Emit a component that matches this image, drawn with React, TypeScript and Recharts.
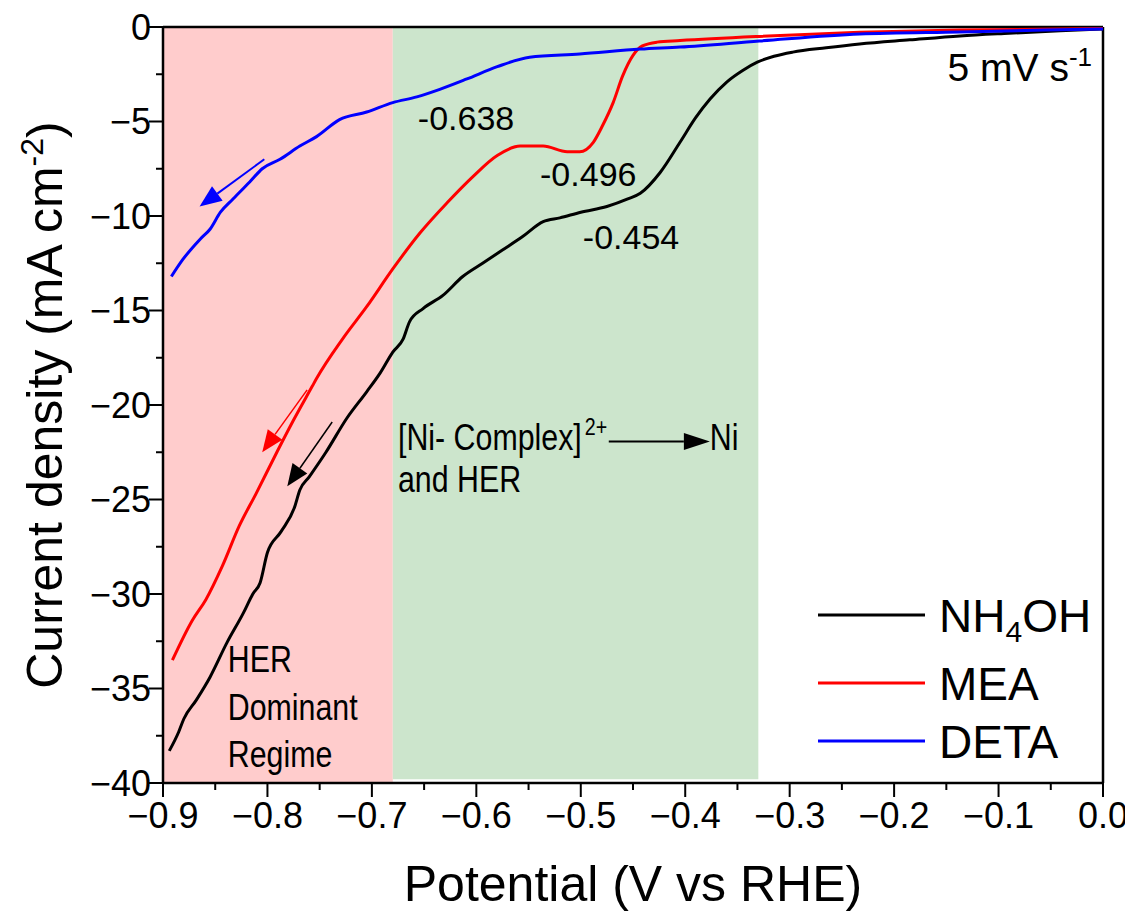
import React from "react";
import {
  LineChart,
  Line,
  XAxis,
  YAxis,
  ReferenceArea,
  ReferenceLine,
  ReferenceDot,
  Legend,
} from "recharts";

const FONT = "'Liberation Sans', Arial, sans-serif";

// Потенциал (V vs RHE) / плотность тока (mA cm-2)
const nh4ohPoints = [
  { v: -0.894, j: -38.3 }, { v: -0.885, j: -37.3 }, { v: -0.88, j: -36.6 },
  { v: -0.868, j: -35.6 }, { v: -0.855, j: -34.4 }, { v: -0.839, j: -32.6 },
  { v: -0.823, j: -31.0 }, { v: -0.814, j: -30.0 }, { v: -0.807, j: -29.4 },
  { v: -0.8, j: -27.8 }, { v: -0.787, j: -26.7 }, { v: -0.774, j: -25.4 },
  { v: -0.769, j: -24.5 }, { v: -0.76, j: -23.8 }, { v: -0.744, j: -22.5 },
  { v: -0.724, j: -20.7 }, { v: -0.705, j: -19.3 }, { v: -0.692, j: -18.3 },
  { v: -0.68, j: -17.2 }, { v: -0.67, j: -16.5 }, { v: -0.664, j: -15.6 },
  { v: -0.651, j: -14.9 }, { v: -0.632, j: -14.2 }, { v: -0.613, j: -13.2 },
  { v: -0.594, j: -12.5 }, { v: -0.575, j: -11.8 }, { v: -0.556, j: -11.1 },
  { v: -0.536, j: -10.3 }, { v: -0.52, j: -10.1 }, { v: -0.5, j: -9.8 },
  { v: -0.475, j: -9.5 }, { v: -0.455, j: -9.1 }, { v: -0.443, j: -8.8 },
  { v: -0.424, j: -7.7 }, { v: -0.405, j: -6.1 }, { v: -0.39, j: -4.8 },
  { v: -0.376, j: -3.8 }, { v: -0.36, j: -2.9 }, { v: -0.345, j: -2.3 },
  { v: -0.331, j: -1.86 }, { v: -0.315, j: -1.55 }, { v: -0.297, j: -1.33 },
  { v: -0.265, j: -1.1 }, { v: -0.233, j: -0.9 }, { v: -0.185, j: -0.68 },
  { v: -0.137, j: -0.47 }, { v: -0.09, j: -0.33 }, { v: -0.041, j: -0.2 },
  { v: 0, j: -0.1 },
];

const meaPoints = [
  { v: -0.891, j: -33.5 }, { v: -0.872, j: -31.4 }, { v: -0.859, j: -30.3 },
  { v: -0.843, j: -28.5 }, { v: -0.827, j: -26.4 }, { v: -0.811, j: -24.7 },
  { v: -0.791, j: -22.5 }, { v: -0.776, j: -20.9 }, { v: -0.757, j: -19.0 },
  { v: -0.753, j: -18.6 }, { v: -0.728, j: -16.5 }, { v: -0.705, j: -14.8 },
  { v: -0.68, j: -12.8 }, { v: -0.654, j: -10.9 }, { v: -0.628, j: -9.3 },
  { v: -0.603, j: -7.9 }, { v: -0.58, j: -6.8 }, { v: -0.558, j: -6.3 },
  { v: -0.536, j: -6.3 }, { v: -0.513, j: -6.6 }, { v: -0.501, j: -6.6 },
  { v: -0.488, j: -6.1 }, { v: -0.479, j: -5.2 }, { v: -0.469, j: -4.0 },
  { v: -0.46, j: -2.6 }, { v: -0.45, j: -1.5 }, { v: -0.441, j: -1.0 },
  { v: -0.427, j: -0.8 }, { v: -0.405, j: -0.72 }, { v: -0.329, j: -0.5 },
  { v: -0.233, j: -0.28 }, { v: -0.137, j: -0.16 }, { v: 0, j: -0.08 },
];

const detaPoints = [
  { v: -0.892, j: -13.2 }, { v: -0.881, j: -12.3 }, { v: -0.864, j: -11.2 },
  { v: -0.855, j: -10.7 }, { v: -0.845, j: -9.8 }, { v: -0.833, j: -9.1 },
  { v: -0.817, j: -8.2 }, { v: -0.805, j: -7.5 }, { v: -0.788, j: -7.0 },
  { v: -0.769, j: -6.3 }, { v: -0.753, j: -5.8 }, { v: -0.731, j: -4.9 },
  { v: -0.705, j: -4.5 }, { v: -0.68, j: -4.0 }, { v: -0.657, j: -3.7 },
  { v: -0.635, j: -3.3 }, { v: -0.609, j: -2.75 }, { v: -0.58, j: -2.1 },
  { v: -0.549, j: -1.6 }, { v: -0.501, j: -1.43 }, { v: -0.443, j: -1.17 },
  { v: -0.405, j: -1.06 }, { v: -0.329, j: -0.74 }, { v: -0.233, j: -0.37 },
  { v: -0.137, j: -0.26 }, { v: 0, j: -0.1 },
];

const SERIES_ORDER = ["NH4OH", "MEA", "DETA"];

// деления осей
const X_MAJOR = [-0.9, -0.8, -0.7, -0.6, -0.5, -0.4, -0.3, -0.2, -0.1, 0];
const X_MINOR = [-0.85, -0.75, -0.65, -0.55, -0.45, -0.35, -0.25, -0.15, -0.05];
const Y_MAJOR = [0, -5, -10, -15, -20, -25, -30, -35, -40];
const Y_MINOR = [-2.5, -7.5, -12.5, -17.5, -22.5, -27.5, -32.5, -37.5];

// области
const HER_REGION = [-0.9, -0.68];
const NI_REGION = [-0.68, -0.33];

// подписи пиков
const peakLabels = [
  { text: "-0.638", v: -0.656, j: -5.46 },
  { text: "-0.496", v: -0.539, j: -8.42 },
  { text: "-0.454", v: -0.498, j: -11.76 },
];

// стрелки направления развёртки: [хвост, остриё]
const sweepArrows = [
  { color: "#0000FF", from: { v: -0.803, j: -7.0 }, to: { v: -0.865, j: -9.5 }, w: 2 },
  { color: "#FF0000", from: { v: -0.762, j: -19.2 }, to: { v: -0.805, j: -22.5 }, w: 1.5 },
  { color: "#000000", from: { v: -0.738, j: -20.9 }, to: { v: -0.781, j: -24.3 }, w: 1.5 },
];

const fmtX = (v: number) => (v === 0 ? "0.0" : "\u2212" + Math.abs(v).toFixed(1));
const fmtY = (v: number) => (v === 0 ? "0" : "\u2212" + Math.abs(v));

const XTick = (props: any) => {
  const { x, y, payload } = props;
  const major = X_MAJOR.includes(payload.value);
  return (
    <g>
      <line x1={x} y1={y} x2={x} y2={y + (major ? 14 : 7)} stroke="#000" strokeWidth={2} />
      {major && (
        <text x={x} y={y + 45} textAnchor="middle" fontSize={36} fontFamily={FONT} fill="#000">
          {fmtX(payload.value)}
        </text>
      )}
    </g>
  );
};

const YTick = (props: any) => {
  const { x, y, payload } = props;
  const major = Y_MAJOR.includes(payload.value);
  return (
    <g>
      <line x1={x} y1={y} x2={x - (major ? 14 : 7)} y2={y} stroke="#000" strokeWidth={2} />
      {major && (
        <text x={x - 12} y={y} dy="0.36em" textAnchor="end" fontSize={36} fontFamily={FONT} fill="#000">
          {fmtY(payload.value)}
        </text>
      )}
    </g>
  );
};

const arrowShape = (color: string, lw: number, hl = 22, hw = 9) => (p: any) => {
  const { x1, y1, x2, y2 } = p;
  const len = Math.hypot(x2 - x1, y2 - y1) || 1;
  const ux = (x2 - x1) / len;
  const uy = (y2 - y1) / len;
  const bx = x2 - ux * hl;
  const by = y2 - uy * hl;
  return (
    <g>
      <line x1={x1} y1={y1} x2={bx} y2={by} stroke={color} strokeWidth={lw} />
      <polygon
        points={`${x2},${y2} ${bx - uy * hw},${by + ux * hw} ${bx + uy * hw},${by - ux * hw}`}
        fill={color}
      />
    </g>
  );
};

// sx < 1 — сжатый по ширине шрифт, как в подписях на рисунке
const textShape =
  (content: React.ReactNode, size = 34, anchor = "start", sx = 1) =>
  (p: any) => (
    <text
      transform={`translate(${p.cx},${p.cy}) scale(${sx},1)`}
      x={0}
      y={0}
      fontSize={size}
      fontFamily={FONT}
      fill="#000"
      textAnchor={anchor}
    >
      {content}
    </text>
  );

const legendRows = [27, 95, 153];

const renderLegend = (props: any) => {
  const payload = [...props.payload].sort(
    (a: any, b: any) => SERIES_ORDER.indexOf(a.value) - SERIES_ORDER.indexOf(b.value)
  );
  return (
    <svg width={320} height={200} style={{ display: "block" }}>
      {payload.map((e: any, i: number) => (
        <g key={e.value}>
          <line x1={0} y1={legendRows[i]} x2={107} y2={legendRows[i]} stroke={e.color} strokeWidth={3} />
          <text x={121} y={legendRows[i] + 17} fontSize={46} fontFamily={FONT} fill="#000">
            {e.value === "NH4OH" ? (
              <>
                NH<tspan fontSize={30} dy={10}>4</tspan>
                <tspan dy={-10}>OH</tspan>
              </>
            ) : (
              e.value
            )}
          </text>
        </g>
      ))}
    </svg>
  );
};

export default function App() {
  return (
    <LineChart
      width={1125}
      height={913}
      margin={{ top: 19, right: 30, bottom: 0, left: 0 }}
      style={{ fontFamily: FONT }}
    >
      <ReferenceArea x1={HER_REGION[0]} x2={HER_REGION[1]} y1={-40} y2={0} fill="#FFCCCC" fillOpacity={1} stroke="none" />
      <ReferenceArea x1={NI_REGION[0]} x2={NI_REGION[1]} y1={-39.8} y2={0} fill="#CCE5CC" fillOpacity={1} stroke="none" />
      <XAxis
        dataKey="v"
        type="number"
        domain={[-0.9, 0]}
        allowDataOverflow
        ticks={[...X_MAJOR, ...X_MINOR].sort((a, b) => a - b)}
        interval={0}
        tick={<XTick />}
        tickLine={false}
        tickSize={0}
        tickMargin={0}
        height={138}
        axisLine={{ stroke: "#000", strokeWidth: 2.5 }}
        label={{
          content: (p: any) => (
            <text
              x={p.viewBox.x + p.viewBox.width / 2}
              y={p.viewBox.y + 118}
              textAnchor="middle"
              fontSize={50}
              fontFamily={FONT}
              fill="#000"
            >
              Potential (V vs RHE)
            </text>
          ),
        }}
      />
      <YAxis
        type="number"
        domain={[-40, 0]}
        allowDataOverflow
        ticks={[...Y_MAJOR, ...Y_MINOR].sort((a, b) => b - a)}
        interval={0}
        tick={<YTick />}
        tickLine={false}
        tickSize={0}
        tickMargin={0}
        width={155}
        axisLine={{ stroke: "#000", strokeWidth: 2.5 }}
        label={{
          content: (p: any) => {
            const cx = p.viewBox.x + 54;
            const cy = p.viewBox.y + p.viewBox.height / 2;
            return (
              <text
                x={cx}
                y={cy}
                transform={`rotate(-90, ${cx}, ${cy})`}
                textAnchor="middle"
                fontSize={50}
                fontFamily={FONT}
                fill="#000"
              >
                Current density (mA cm
                <tspan fontSize={32} dy={-19}>-2</tspan>
                <tspan dy={19}>)</tspan>
              </text>
            );
          },
        }}
      />
      <ReferenceLine y={0} stroke="#000" strokeWidth={2.5} />
      <ReferenceLine x={0} stroke="#000" strokeWidth={2.5} />

      <Line data={nh4ohPoints} dataKey="j" name="NH4OH" type="monotone" stroke="#000000" strokeWidth={3} dot={false} isAnimationActive={false} />
      <Line data={meaPoints} dataKey="j" name="MEA" type="monotone" stroke="#FF0000" strokeWidth={3} dot={false} isAnimationActive={false} />
      <Line data={detaPoints} dataKey="j" name="DETA" type="monotone" stroke="#0000FF" strokeWidth={3} dot={false} isAnimationActive={false} />

      {sweepArrows.map((a, i) => (
        <ReferenceLine
          key={`arrow-${i}`}
          segment={[{ x: a.from.v, y: a.from.j }, { x: a.to.v, y: a.to.j }]}
          shape={arrowShape(a.color, a.w)}
        />
      ))}
      <ReferenceLine
        segment={[{ x: -0.4732, y: -21.93 }, { x: -0.3764, y: -21.93 }]}
        shape={arrowShape("#000", 2, 26, 8.5)}
      />

      {peakLabels.map((l) => (
        <ReferenceDot key={l.text} x={l.v} y={l.j} r={0} shape={textShape(l.text)} />
      ))}
      <ReferenceDot
        x={-0.0105}
        y={-2.86}
        r={0}
        shape={textShape(
          <>
            5 mV s<tspan fontSize={26} dy={-15}>-1</tspan>
          </>,
          39,
          "end"
        )}
      />
      <ReferenceDot x={-0.675} y={-22.36} r={0} shape={textShape("[Ni- Complex]", 37, "start", 0.82)} />
      <ReferenceDot x={-0.4962} y={-21.6} r={0} shape={textShape("2+", 24, "start", 0.82)} />
      <ReferenceDot x={-0.3764} y={-22.36} r={0} shape={textShape("Ni", 37, "start", 0.82)} />
      <ReferenceDot x={-0.675} y={-24.58} r={0} shape={textShape("and HER", 37, "start", 0.82)} />
      <ReferenceDot x={-0.838} y={-34.12} r={0} shape={textShape("HER", 37, "start", 0.82)} />
      <ReferenceDot x={-0.838} y={-36.66} r={0} shape={textShape("Dominant", 37, "start", 0.82)} />
      <ReferenceDot x={-0.838} y={-39.15} r={0} shape={textShape("Regime", 37, "start", 0.82)} />

      <Legend
        layout="vertical"
        align="center"
        verticalAlign="middle"
        content={renderLegend}
        wrapperStyle={{ left: 810, top: 580, width: 320 }}
      />
    </LineChart>
  );
}
